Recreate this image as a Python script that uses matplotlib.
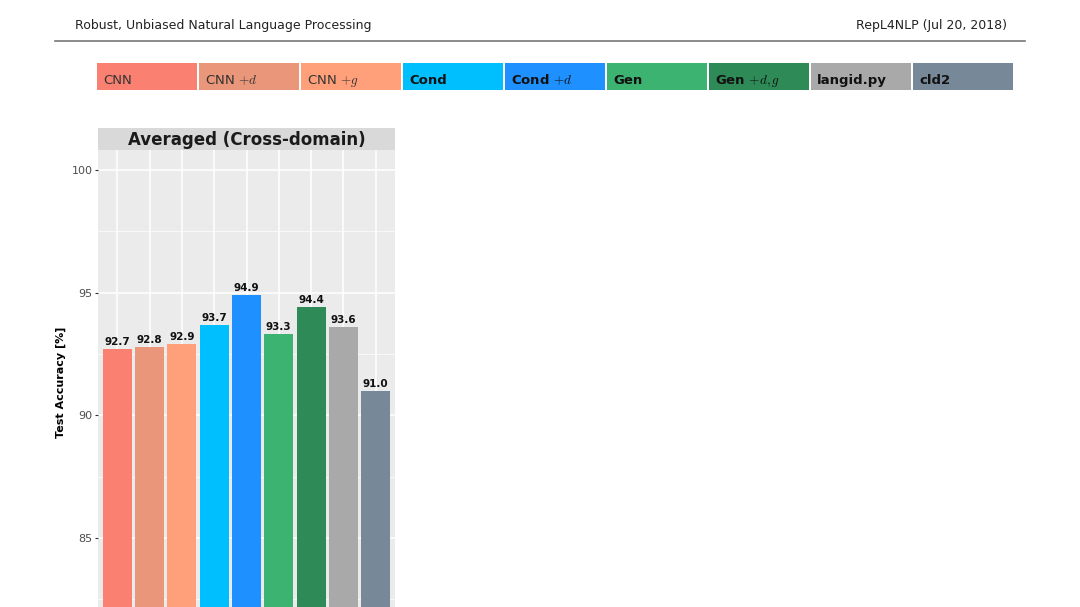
import numpy as np
import matplotlib
matplotlib.use('Agg')
import matplotlib.pyplot as plt
from matplotlib.patches import Rectangle
from matplotlib.ticker import MultipleLocator

plt.rcParams['mathtext.fontset'] = 'cm'

# data
models = ['CNN', r'CNN $+d$', r'CNN $+g$', 'Cond', r'Cond $+d$', 'Gen',
          r'Gen $+d,g$', 'langid.py', 'cld2']
bold_label = [False, False, False, True, True, True, True, True, True]
accuracy = [92.7, 92.8, 92.9, 93.7, 94.9, 93.3, 94.4, 93.6, 91.0]
colors = ['#FA8072', '#E9967A', '#FFA07A', '#00BFFF', '#1E90FF',
          '#3CB371', '#2E8B57', '#A9A9A9', '#778899']
yticks = [85, 90, 95, 100]

W, H = 1080, 607
fig = plt.figure(figsize=(W / 100, H / 100), dpi=100)

def px(x0, y0, x1, y1):
    # pixel box (top-left origin) -> figure fraction rect
    return [x0 / W, 1 - y1 / H, (x1 - x0) / W, (y1 - y0) / H]

# # page header
fig.text(75 / W, 1 - 25 / H, 'Robust, Unbiased Natural Language Processing',
         fontsize=9, color='#222222', va='center', ha='left')
fig.text(1007 / W, 1 - 25 / H, 'RepL4NLP (Jul 20, 2018)',
         fontsize=9, color='#222222', va='center', ha='right')
fig.add_artist(plt.Line2D([55 / W, 1025 / W], [1 - 41 / H, 1 - 41 / H],
                          color='#777777', lw=1.2))

# # legend strip of colored boxes
pitch, bw = 102, 100
for i, (lab, c, b) in enumerate(zip(models, colors, bold_label)):
    x0 = 97 + i * pitch
    fig.add_artist(Rectangle((x0 / W, 1 - 90 / H), bw / W, 27 / H,
                             transform=fig.transFigure, facecolor=c,
                             edgecolor='none'))
    fig.text((x0 + 6) / W, 1 - 84 / H, lab, fontsize=9.5,
             fontweight='bold' if b else 'normal',
             color='#111111' if b else '#333333', va='baseline', ha='left')

# # bar panel
ymin, ymax = 80, 100 + 20 / 24.53
bottom_px = 170 + (100 - ymin) * 24.53
ax = fig.add_axes(px(98, 150, 395, bottom_px))
ax.set_facecolor('#EBEBEB')
x = np.arange(1, len(accuracy) + 1)
ax.bar(x, np.array(accuracy) - ymin, bottom=ymin, width=0.9,
       color=colors, zorder=3)
for xi, v in zip(x, accuracy):
    ax.text(xi, v + 0.08, '%.1f' % v, ha='center', va='bottom',
            fontsize=7.5, fontweight='bold', color='#111111', zorder=4)

ax.set_xlim(0.4, 9.6)
ax.set_ylim(ymin, ymax)
ax.set_xticks(x)
ax.set_yticks(yticks)
ax.yaxis.set_minor_locator(MultipleLocator(2.5))
ax.grid(which='major', color='white', lw=1.1, zorder=0)
ax.grid(which='minor', axis='y', color='white', lw=0.5, zorder=0)
ax.tick_params(axis='x', length=0, labelbottom=False)
ax.tick_params(axis='y', which='major', length=2.5, width=0.8,
               color='#333333', labelsize=8, labelcolor='#4D4D4D', pad=1.5)
ax.tick_params(axis='y', which='minor', length=0)
for s in ax.spines.values():
    s.set_visible(False)
ax.set_ylabel('Test Accuracy [%]', fontsize=8, fontweight='bold', labelpad=5)
ax.yaxis.set_label_coords(-0.107, 1 - (382 - 150) / (bottom_px - 150))

# # facet strip title
sax = fig.add_axes(px(98, 128, 395, 150))
sax.set_facecolor('#D9D9D9')
sax.set_xticks([])
sax.set_yticks([])
for s in sax.spines.values():
    s.set_visible(False)
sax.text(0.5, 0.45, 'Averaged (Cross-domain)', ha='center', va='center',
         fontsize=12, fontweight='bold', color='#1A1A1A',
         transform=sax.transAxes)

fig.savefig('out.png', dpi=100)
